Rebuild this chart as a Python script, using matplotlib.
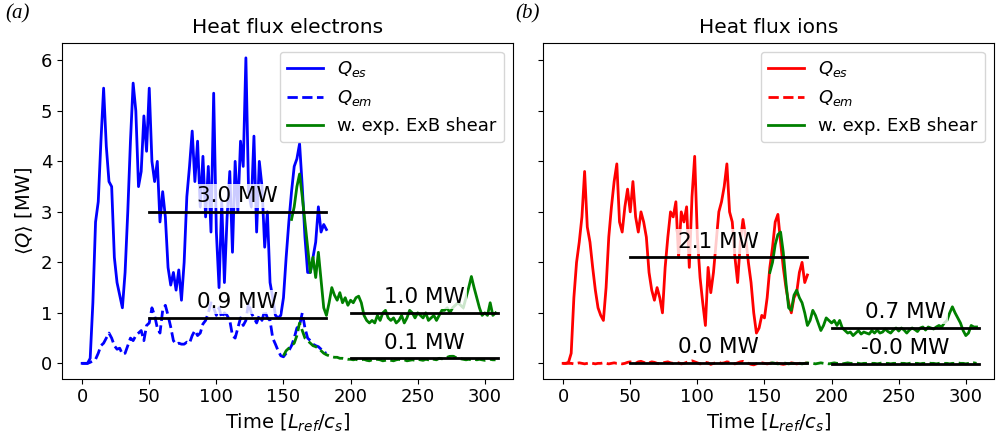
import matplotlib
matplotlib.use("Agg")
import matplotlib.pyplot as plt
import numpy as np

# time samples [L_ref/c_s]
t_run = np.arange(0, 184, 2)        # main runs 0..182
t_shear_e = np.arange(156, 310, 2)  # electrons with ExB shear
t_shear_em_e = np.arange(150, 310, 2)
t_shear_i = np.arange(154, 310, 2)  # ions with ExB shear

# electrons, Q_es
q_es_e = [0.0, 0.0, 0.0, 0.1, 1.2, 2.8, 3.2, 4.4, 5.45, 4.3,
          3.6, 3.5, 2.1, 1.6, 1.35, 1.1, 1.8, 3.0, 4.4, 5.55,
          5.0, 3.5, 3.8, 4.9, 4.2, 5.45, 4.0, 3.6, 4.0, 2.8,
          3.4, 2.9, 1.9, 1.55, 1.8, 1.45, 1.85, 1.25, 2.0, 3.3,
          3.9, 4.6, 3.6, 4.4, 3.1, 4.1, 2.9, 3.9, 2.6, 5.35,
          2.6, 1.5, 3.2, 1.6, 2.9, 3.8, 2.2, 4.0, 3.0, 4.4,
          3.9, 6.05, 3.4, 3.1, 4.5, 2.6, 4.0, 3.5, 2.3, 3.0,
          1.6, 1.3, 0.95, 0.9, 0.95, 1.3, 2.1, 2.8, 3.4, 3.9,
          4.05, 4.35, 3.5, 2.5, 1.8, 1.8, 2.1, 2.4, 3.1, 2.6,
          2.75, 2.65]
# electrons, Q_em
q_em_e = [0.0, 0.0, 0.0, 0.02, 0.05, 0.08, 0.2, 0.35, 0.4, 0.5,
          0.6, 0.5, 0.35, 0.28, 0.3, 0.18, 0.2, 0.35, 0.5, 0.45,
          0.55, 0.6, 0.65, 0.45, 0.75, 0.8, 1.1, 0.95, 0.7, 0.6,
          1.05, 1.15, 0.95, 0.72, 0.45, 0.38, 0.4, 0.38, 0.38, 0.42,
          0.4, 0.55, 0.65, 0.55, 0.6, 0.78, 0.85, 1.0, 1.2, 1.1,
          0.95, 1.1, 0.9, 1.0, 0.95, 0.85, 0.55, 0.5, 0.7, 0.9,
          0.75, 0.85, 1.2, 1.0, 0.9, 0.8, 0.95, 0.85, 1.05, 0.9,
          0.85, 0.5, 0.38, 0.25, 0.15, 0.13, 0.2, 0.25, 0.35, 0.5,
          0.7, 0.75, 1.0, 0.7, 0.5, 0.45, 0.38, 0.35, 0.33, 0.28,
          0.22, 0.2]
# electrons with ExB shear, Q_es
q_es_e_shear = [2.85, 3.1, 3.5, 3.75, 3.3, 2.8, 2.3, 1.8, 2.1, 1.7,
                2.2, 1.65, 1.1, 0.95, 1.2, 1.5, 1.35, 1.25, 1.4, 1.2,
                1.3, 1.15, 1.25, 1.2, 1.3, 1.33, 1.2, 0.95, 0.85, 0.8,
                0.85, 0.8, 0.95, 0.85, 1.0, 1.05, 0.9, 0.85, 0.9, 0.8,
                0.85, 0.95, 0.8, 0.9, 1.05, 1.0, 0.9, 1.0, 0.95, 0.9,
                1.0, 0.85, 0.9, 0.95, 0.85, 0.95, 1.05, 1.05, 1.1, 1.0,
                1.1, 1.15, 1.2, 1.15, 1.1, 1.3, 1.5, 1.72, 1.5, 1.3,
                1.1, 0.95, 1.0, 0.95, 1.2, 0.95, 1.0]
# electrons with ExB shear, Q_em
q_em_e_shear = [0.15, 0.25, 0.3, 0.35, 0.4, 0.55, 0.8, 0.65, 0.5, 0.45,
                0.4, 0.35, 0.33, 0.3, 0.25, 0.2, 0.17, 0.15, 0.13, 0.12,
                0.12, 0.1, 0.1, 0.09, 0.08, 0.08, 0.07, 0.08, 0.06, 0.07,
                0.08, 0.06, 0.05, 0.07, 0.06, 0.08, 0.07, 0.05, 0.06, 0.07,
                0.06, 0.05, 0.07, 0.08, 0.06, 0.07, 0.05, 0.06, 0.07, 0.06,
                0.08, 0.07, 0.06, 0.08, 0.07, 0.09, 0.08, 0.07, 0.1, 0.09,
                0.1, 0.12, 0.14, 0.15, 0.12, 0.1, 0.09, 0.08, 0.07, 0.08,
                0.07, 0.08, 0.07, 0.08, 0.07, 0.06, 0.07, 0.08, 0.07, 0.07]

# ions, Q_es
q_es_i = [0.0, 0.0, 0.02, 0.2, 1.3, 2.0, 2.4, 2.9, 3.8, 2.7,
          2.4, 1.9, 1.45, 1.1, 0.95, 0.85, 1.5, 2.5, 3.1, 3.6,
          3.95, 2.8, 2.6, 3.1, 3.45, 3.0, 3.6, 2.9, 2.6, 3.0,
          2.8, 2.5, 1.8, 1.45, 1.25, 1.5, 1.3, 1.0, 1.9, 2.5,
          3.0, 2.9, 3.2, 2.1, 3.0, 2.8, 3.1, 1.9, 3.3, 4.1,
          2.5, 1.7, 1.2, 0.75, 1.9, 1.4, 1.8, 2.4, 3.0, 3.2,
          3.5, 3.95, 3.0, 2.8, 2.1, 1.6, 2.4, 2.85, 2.5, 2.0,
          1.6, 1.0, 0.6, 0.7, 0.95, 0.9, 1.3, 1.9, 2.3, 2.8,
          2.95, 2.4, 1.9, 1.5, 1.2, 1.0, 1.3, 1.4, 1.8, 2.0,
          1.6, 1.75]
# ions, Q_em
q_em_i = [0.0, 0.0, 0.0, 0.0, -0.01, 0.0, 0.01, 0.0, -0.01, 0.0,
          0.01, 0.0, -0.01, 0.0, 0.0, 0.01, 0.0, -0.01, 0.0, 0.01,
          0.0, 0.0, -0.01, 0.0, 0.02, 0.03, 0.01, 0.0, 0.03, 0.04,
          0.02, 0.0, 0.01, 0.03, 0.02, 0.0, -0.01, 0.01, 0.02, 0.03,
          0.01, 0.0, 0.02, 0.01, -0.01, 0.0, 0.02, 0.04, 0.05, 0.03,
          0.01, -0.01, 0.0, 0.02, 0.01, -0.02, 0.0, 0.01, 0.02, 0.0,
          0.01, 0.03, 0.02, 0.0, -0.01, 0.01, 0.03, 0.04, 0.02, 0.0,
          -0.02, -0.03, -0.01, 0.0, 0.01, 0.0, -0.01, 0.0, 0.01, 0.02,
          0.0, -0.01, -0.02, -0.01, 0.0, 0.01, 0.0, -0.01, 0.0, 0.0,
          0.01, 0.0]
# ions with ExB shear, Q_es
q_es_i_shear = [1.8, 2.0, 2.35, 2.55, 2.6, 2.2, 1.6, 1.1, 1.05, 1.35,
                1.45, 1.3, 1.2, 1.0, 0.75, 0.85, 1.05, 0.95, 0.8, 0.65,
                0.75, 0.9, 0.85, 0.8, 0.85, 0.75, 0.85, 0.7, 0.65, 0.6,
                0.62, 0.55, 0.6, 0.65, 0.58, 0.62, 0.6, 0.58, 0.65, 0.6,
                0.66, 0.6, 0.62, 0.68, 0.63, 0.6, 0.66, 0.7, 0.64, 0.7,
                0.66, 0.6, 0.66, 0.7, 0.67, 0.63, 0.7, 0.72, 0.66, 0.72,
                0.7, 0.68, 0.72, 0.75, 0.72, 0.8, 0.85, 1.0, 1.12, 1.0,
                0.9, 0.8, 0.65, 0.55, 0.6, 0.75, 0.72, 0.72]
# ions with ExB shear, Q_em
q_em_i_shear = [0.0, 0.01, 0.0, -0.01, 0.0, 0.01, 0.0, -0.01, 0.0, 0.0,
                0.01, 0.0, -0.01, 0.0, 0.01, 0.0, 0.0, -0.01, 0.0, 0.01,
                0.0, 0.0, -0.01, 0.0, 0.01, 0.0, 0.0, -0.01, 0.0, 0.01,
                0.0, 0.0, 0.01, 0.0, -0.01, 0.0, 0.0, 0.01, 0.0, 0.0,
                -0.01, 0.0, 0.01, 0.0, 0.0, -0.01, 0.0, 0.0, 0.01, 0.0,
                0.0, -0.01, 0.0, 0.01, 0.0, 0.0, -0.01, 0.0, 0.0, 0.01,
                0.0, 0.0, -0.01, 0.0, 0.01, 0.0, 0.0, -0.01, 0.0, 0.0,
                0.01, 0.0, 0.0, -0.01, 0.0, 0.0, 0.01, 0.0]

# averaging windows and time-averaged values
avg_run = (50, 182)
avg_shear = (200, 310)
mean_e = [3.0, 0.9]        # Q_es, Q_em without shear
mean_e_shear = [1.0, 0.1]
mean_i = [2.1, 0.01]
mean_i_shear = [0.7, -0.01]


def draw_mean(ax, span, val):
    ax.plot(span, [val, val], color='black', lw=2, zorder=4)
    ax.annotate(f'{val:.1f} MW', xy=(np.mean(span), val), xytext=(0, 7),
                textcoords='offset points', ha='center', va='baseline',
                fontsize=15.5, zorder=3,
                bbox=dict(facecolor='white', alpha=0.8, edgecolor='none', pad=1.5))


fig = plt.figure(figsize=(9.97, 4.43), dpi=100)
bot = 1 - 378.5 / 443
h = (378.5 - 42.7) / 443
ax1 = fig.add_axes([62 / 997, bot, (513 - 62) / 997, h])
ax2 = fig.add_axes([543 / 997, bot, (994 - 543) / 997, h], sharey=ax1)

panels = [
    (ax1, 'blue', q_es_e, q_em_e, q_es_e_shear, q_em_e_shear, t_shear_e, t_shear_em_e,
     mean_e, mean_e_shear, 'Heat flux electrons'),
    (ax2, 'red', q_es_i, q_em_i, q_es_i_shear, q_em_i_shear, t_shear_i, t_shear_i,
     mean_i, mean_i_shear, 'Heat flux ions'),
]

for ax, col, es, em, es_s, em_s, ts, tsm, m, ms, title in panels:
    ax.plot(t_run, es, color=col, lw=2, label='$Q_{es}$')
    ax.plot(t_run, em, color=col, lw=2, ls='--', label='$Q_{em}$')
    ax.plot(ts, es_s, color='green', lw=2, label='w. exp. ExB shear')
    ax.plot(tsm, em_s, color='green', lw=2, ls='--')
    for v in m:
        draw_mean(ax, avg_run, v)
    for v in ms:
        draw_mean(ax, avg_shear, v)
    ax.set_xlim(-15, 321)
    ax.set_ylim(-0.3, 6.35)
    ax.set_xticks([0, 50, 100, 150, 200, 250, 300])
    ax.set_title(title, fontsize=14.5, pad=7)
    ax.set_xlabel('Time [$L_{ref}/c_s$]', fontsize=14)
    ax.tick_params(labelsize=13)
    ax.legend(loc='upper right', fontsize=13)

ax1.set_ylabel(r'$\langle Q\rangle$ [MW]', fontsize=14)
plt.setp(ax2.get_yticklabels(), visible=False)

fig.text(5 / 997, 1 - 4 / 443, '(a)', family='Liberation Serif', style='italic',
         fontsize=15, va='top', ha='left')
fig.text(515 / 997, 1 - 4 / 443, '(b)', family='Liberation Serif', style='italic',
         fontsize=15, va='top', ha='left')

fig.savefig('out.png', dpi=100)
